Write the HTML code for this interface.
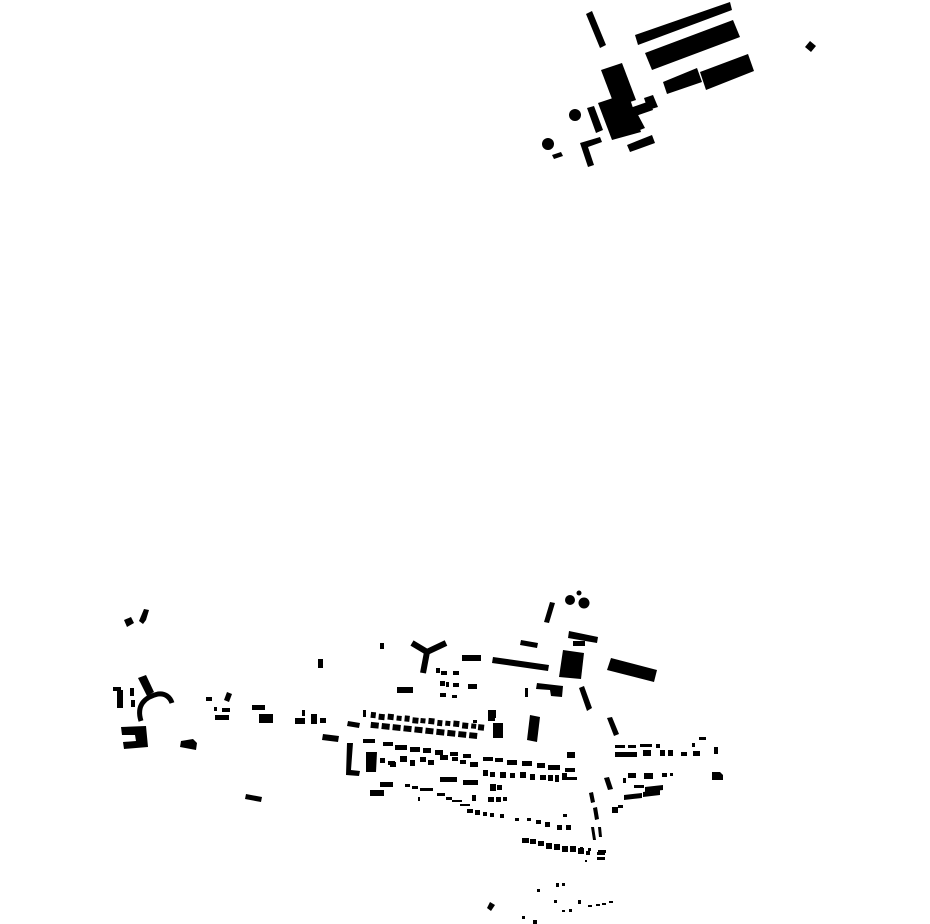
<!DOCTYPE html>
<html><head><meta charset="utf-8"><style>html,body{margin:0;padding:0;background:#fff}svg{display:block}</style></head>
<body>
<svg width="930" height="924" viewBox="0 0 930 924" xmlns="http://www.w3.org/2000/svg">
<g fill="#000">
<!-- top cluster -->
<polygon points="586,14 592,11 606,45 600,48"/>
<polygon points="635,35 730,2 732,10 638,45"/>
<polygon points="645,53 733,20 740,37 652,70"/>
<polygon points="663,82 697,68 702,82 667,94"/>
<polygon points="700,72 748,54 754,71 706,90"/>
<polygon points="810,41 816,46 811,52 805,47"/>
<polygon points="601,70 622,63 636,100 615,107"/>
<polygon points="598,103 628,93 641,132 612,140"/>
<polygon points="644,98 653,95 658,107 648,110"/>
<polygon points="630,108 650,101 653,110 633,117"/>
<polygon points="587,108 594,106 603,130 596,133"/>
<polygon points="632,115 637,113 645,128 640,130"/>
<circle cx="575" cy="115" r="6"/>
<circle cx="548" cy="144" r="6"/>
<polygon points="552,155 561,152 563,156 554,159"/>
<polygon points="580,143 600,137 602,142 588,147 594,165 588,167"/>
<polygon points="627,145 652,135 655,143 630,152"/>

<!-- left cluster -->
<polygon points="124,620 131,617 134,623 127,627"/>
<polygon points="139,621 144,609 149,610 146,620 143,624"/>
<polygon points="138,678 146,675 154,692 147,696"/>
<rect x="113" y="687" width="8" height="4"/>
<rect x="117" y="690" width="6" height="18"/>
<rect x="130" y="688" width="4" height="8"/>
<rect x="131" y="700" width="4" height="7"/>
<path d="M141,721 C136,705 145,697 158,694 C165,693 170,697 172,703" fill="none" stroke="#000" stroke-width="5"/>
<polygon points="121,727 146,726 148,747 124,749 123,742 136,741 135,735 122,735"/>
<polygon points="181,741 193,739 197,743 196,750 180,747"/>
<rect x="206" y="697" width="6" height="4"/>
<polygon points="227,692 232,694 229,702 224,700"/>
<rect x="214" y="707" width="3" height="4"/>
<rect x="222" y="708" width="8" height="4"/>
<rect x="215" y="715" width="14" height="5"/>
<rect x="252" y="705" width="13" height="5"/>
<rect x="259" y="714" width="14" height="9"/>
<rect x="318" y="659" width="5" height="9"/>
<rect x="295" y="718" width="10" height="6"/>
<rect x="302" y="710" width="3" height="6"/>
<rect x="311" y="714" width="6" height="10"/>
<rect x="320" y="718" width="6" height="5"/>
<polygon points="323,734 339,736 338,742 322,740"/>
<polygon points="246,794 262,797 261,802 245,799"/>

<!-- upper middle -->
<rect x="380" y="643" width="4" height="6"/>
<polyline points="412,643 427,652 446,643" fill="none" stroke="#000" stroke-width="6"/>
<line x1="427" y1="652" x2="423" y2="673" stroke="#000" stroke-width="6"/>
<circle cx="570" cy="600" r="5"/>
<circle cx="584" cy="603" r="5.5"/>
<circle cx="579" cy="593" r="2.5"/>
<polygon points="550,602 555,603 549,623 544,622"/>
<polygon points="569,631 598,637 597,643 568,638"/>
<rect x="573" y="641" width="12" height="5"/>
<polygon points="563,650 584,653 581,679 559,677"/>
<polygon points="611,658 657,670 654,682 607,670"/>
<polygon points="521,640 538,643 537,648 520,645"/>
<polygon points="493,657 549,665 548,671 492,663"/>
<rect x="462" y="655" width="19" height="6"/>
<polygon points="537,683 563,686 562,697 551,696 550,690 536,689"/>
<polygon points="579,688 584,686 592,708 587,711"/>
<rect x="525" y="688" width="3" height="9"/>
<rect x="436" y="668" width="4" height="5"/><rect x="441" y="671" width="6" height="4"/><rect x="453" y="671" width="6" height="4"/>
<rect x="440" y="681" width="5" height="5"/><rect x="446" y="682" width="3" height="5"/><rect x="453" y="683" width="6" height="4"/><rect x="468" y="684" width="9" height="5"/>
<rect x="440" y="693" width="6" height="4"/><rect x="452" y="695" width="5" height="3"/>
<rect x="397" y="687" width="16" height="6"/>
<rect x="490" y="710" width="6" height="8"/>

<!-- central grid -->
<polygon points="347,743 353,743 351,770 360,771 359,776 346,775"/>
<polygon points="348,721 360,723 359,728 347,726"/>
<rect x="363" y="710" width="3" height="7"/>
<g transform="rotate(6 420 725)">
<rect x="370" y="717" width="5" height="6"/><rect x="378" y="718" width="6" height="6"/><rect x="387" y="717" width="6" height="6"/><rect x="396" y="718" width="5" height="5"/><rect x="404" y="717" width="5" height="6"/><rect x="412" y="718" width="6" height="6"/><rect x="420" y="718" width="5" height="5"/><rect x="428" y="717" width="6" height="6"/><rect x="437" y="718" width="5" height="6"/><rect x="445" y="718" width="5" height="5"/><rect x="453" y="717" width="6" height="6"/><rect x="462" y="718" width="6" height="6"/><rect x="471" y="718" width="5" height="5"/><rect x="478" y="718" width="6" height="6"/>
<rect x="371" y="727" width="8" height="6"/><rect x="382" y="727" width="8" height="6"/><rect x="393" y="727" width="8" height="6"/><rect x="404" y="727" width="8" height="6"/><rect x="415" y="727" width="8" height="6"/><rect x="426" y="727" width="8" height="6"/><rect x="437" y="727" width="8" height="6"/><rect x="448" y="727" width="8" height="6"/><rect x="459" y="727" width="8" height="6"/><rect x="470" y="727" width="8" height="6"/>
</g>
<rect x="363" y="739" width="12" height="4"/><rect x="383" y="742" width="10" height="4"/><rect x="395" y="745" width="12" height="5"/><rect x="410" y="747" width="10" height="5"/><rect x="423" y="748" width="8" height="5"/><rect x="435" y="750" width="8" height="5"/><rect x="450" y="752" width="8" height="4"/><rect x="463" y="754" width="8" height="4"/><rect x="483" y="757" width="10" height="4"/><rect x="495" y="758" width="8" height="4"/><rect x="507" y="760" width="10" height="5"/><rect x="522" y="761" width="10" height="5"/><rect x="537" y="763" width="8" height="5"/><rect x="548" y="765" width="12" height="5"/><rect x="567" y="752" width="8" height="6"/><rect x="565" y="768" width="10" height="4"/><rect x="562" y="777" width="15" height="3"/>
<polygon points="366,752 377,752 376,772 366,772"/>
<rect x="380" y="758" width="5" height="5"/><rect x="388" y="761" width="7" height="4"/><rect x="400" y="756" width="7" height="6"/><rect x="410" y="760" width="5" height="6"/><rect x="420" y="757" width="6" height="5"/><rect x="428" y="760" width="6" height="5"/><rect x="440" y="755" width="8" height="5"/><rect x="452" y="757" width="6" height="4"/><rect x="460" y="760" width="6" height="4"/><rect x="470" y="762" width="8" height="5"/>
<rect x="390" y="762" width="6" height="5"/>
<rect x="440" y="777" width="17" height="5"/><rect x="463" y="780" width="15" height="5"/>
<rect x="483" y="770" width="5" height="6"/><rect x="490" y="772" width="5" height="5"/><rect x="500" y="772" width="6" height="6"/><rect x="510" y="773" width="5" height="5"/><rect x="520" y="772" width="6" height="6"/><rect x="530" y="774" width="5" height="6"/><rect x="540" y="775" width="6" height="5"/><rect x="548" y="775" width="5" height="6"/><rect x="555" y="775" width="4" height="7"/><rect x="562" y="773" width="5" height="6"/>
<rect x="490" y="784" width="6" height="7"/><rect x="497" y="785" width="5" height="5"/>
<rect x="370" y="790" width="14" height="6"/><rect x="380" y="782" width="13" height="5"/>
<rect x="405" y="784" width="5" height="3"/><rect x="412" y="786" width="6" height="3"/><rect x="420" y="788" width="8" height="3"/><rect x="428" y="788" width="5" height="3"/><rect x="418" y="797" width="2" height="4"/>
<rect x="437" y="793" width="8" height="3"/><rect x="446" y="797" width="6" height="3"/><rect x="452" y="800" width="10" height="2"/><rect x="460" y="804" width="10" height="2"/>
<rect x="472" y="795" width="4" height="6"/><rect x="488" y="797" width="6" height="5"/><rect x="496" y="797" width="5" height="5"/><rect x="503" y="797" width="4" height="4"/>
<rect x="467" y="809" width="6" height="4"/><rect x="475" y="810" width="5" height="5"/><rect x="483" y="812" width="4" height="4"/><rect x="490" y="813" width="4" height="4"/><rect x="500" y="814" width="4" height="4"/>
<rect x="515" y="818" width="4" height="3"/><rect x="527" y="818" width="4" height="3"/><rect x="536" y="820" width="5" height="4"/><rect x="545" y="822" width="5" height="5"/><rect x="557" y="825" width="5" height="5"/><rect x="566" y="825" width="5" height="5"/><rect x="563" y="814" width="4" height="3"/>
<rect x="522" y="838" width="7" height="5"/><rect x="530" y="839" width="6" height="5"/><rect x="538" y="841" width="6" height="5"/><rect x="546" y="843" width="6" height="6"/><rect x="554" y="844" width="6" height="6"/><rect x="562" y="846" width="6" height="6"/><rect x="570" y="846" width="6" height="6"/><rect x="578" y="848" width="6" height="6"/><rect x="586" y="851" width="4" height="4"/><rect x="597" y="852" width="8" height="3"/><rect x="597" y="857" width="8" height="3"/>
<rect x="488" y="710" width="7" height="11"/><rect x="493" y="723" width="10" height="15"/>
<polygon points="530,715 540,717 537,742 527,740"/>
<rect x="473" y="720" width="4" height="3"/>

<!-- right cluster -->
<polygon points="607,718 612,717 619,734 614,736"/>
<rect x="615" y="745" width="10" height="3"/><rect x="628" y="745" width="8" height="3"/><rect x="640" y="744" width="12" height="3"/><rect x="656" y="744" width="4" height="4"/>
<rect x="615" y="752" width="22" height="5"/><rect x="643" y="750" width="8" height="6"/><rect x="660" y="750" width="5" height="6"/><rect x="668" y="750" width="5" height="6"/><rect x="681" y="752" width="6" height="4"/><rect x="693" y="751" width="7" height="5"/><rect x="692" y="743" width="3" height="4"/><rect x="699" y="737" width="7" height="3"/><rect x="714" y="747" width="4" height="7"/>
<polygon points="712,772 720,772 723,775 723,780 712,780"/>
<rect x="628" y="773" width="8" height="5"/><rect x="623" y="778" width="3" height="5"/><rect x="644" y="773" width="9" height="6"/><rect x="662" y="773" width="5" height="4"/><rect x="670" y="773" width="3" height="3"/>
<rect x="634" y="785" width="10" height="3"/>
<polygon points="645,787 663,785 663,790 645,792"/>
<polygon points="624,795 642,793 642,798 624,800"/>
<polygon points="643,792 660,790 660,795 643,797"/>
<polygon points="604,778 609,777 613,789 608,790"/>
<polygon points="589,793 593,792 595,802 591,803"/>
<polygon points="593,808 597,807 599,819 595,820"/>
<polygon points="591,827 594,827 596,840 593,840"/>
<polygon points="598,827 601,827 602,837 599,837"/>
<rect x="612" y="807" width="6" height="6"/><rect x="618" y="805" width="5" height="3"/>
<rect x="580" y="847" width="3" height="6"/><rect x="588" y="848" width="3" height="3"/><rect x="598" y="850" width="8" height="3"/><rect x="585" y="860" width="2" height="2"/>

<!-- bottom scattered -->
<polygon points="490,902 495,905 491,911 487,908"/>
<rect x="537" y="889" width="3" height="3"/><rect x="556" y="883" width="3" height="4"/><rect x="562" y="883" width="3" height="3"/>
<rect x="554" y="900" width="3" height="3"/><rect x="578" y="900" width="3" height="4"/>
<rect x="588" y="905" width="4" height="2"/><rect x="596" y="904" width="4" height="2"/><rect x="602" y="903" width="4" height="2"/><rect x="609" y="901" width="4" height="2"/>
<rect x="562" y="910" width="3" height="2"/><rect x="569" y="909" width="3" height="3"/>
<rect x="522" y="916" width="3" height="3"/><rect x="533" y="920" width="4" height="4"/>
</g>
</svg>
</body></html>
